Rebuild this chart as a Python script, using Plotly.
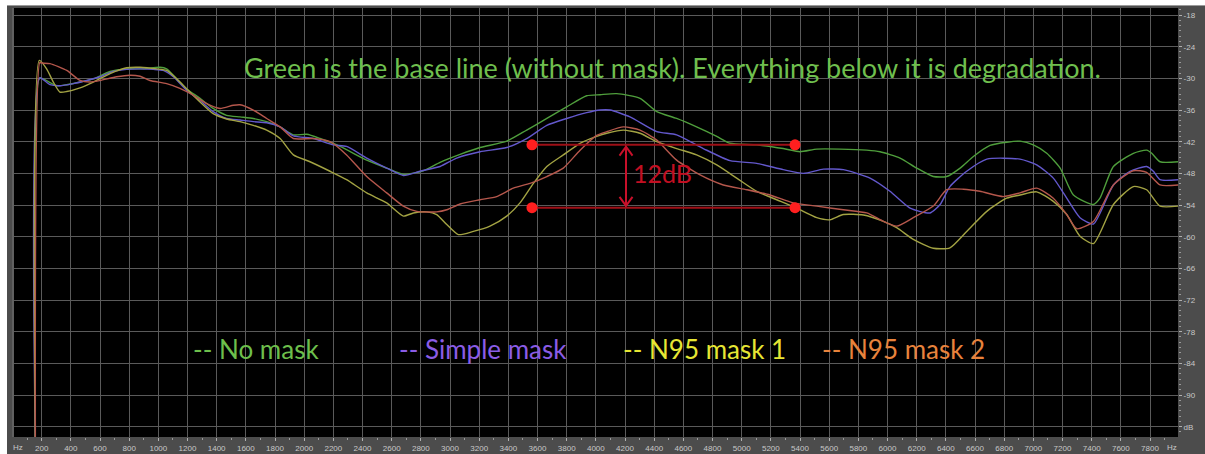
import plotly.graph_objects as go

# ---------------- data (Hz, dB) ----------------
freq_no_mask = [157, 184, 211, 303, 372, 463, 554, 669, 783, 897, 1011, 1057, 1126, 1195, 1286, 1376, 1468, 1560, 1651, 1743,
                1835, 1926, 2018, 2109, 2246, 2429, 2566, 2680, 2817, 2932, 3069, 3206, 3389, 3526, 3664, 3800, 3937, 4029, 4143, 4303,
                4418, 4554, 4691, 4829, 4920, 5103, 5285, 5400, 5515, 5674, 5858, 5949, 6086, 6200, 6314, 6406, 6498, 6589, 6703, 6817,
                6909, 7000, 7092, 7184, 7275, 7412, 7457, 7549, 7686, 7777, 7812, 7869, 7995]
db_no_mask = [-100, -30.0, -30.1, -31.4, -31.2, -30.7, -30.1, -28.7, -28.2, -28.2, -27.9, -28.2, -30.1, -32.0, -33.8, -35.7, -37.0, -37.3, -37.6, -38.2,
              -39.2, -40.7, -40.6, -41.4, -42.9, -45.5, -47.0, -48.2, -47.5, -45.9, -44.4, -43.1, -41.9, -39.8, -37.6, -35.4, -33.3, -33.1, -32.9, -33.8,
              -36.3, -37.6, -39.2, -41.0, -42.3, -42.6, -43.3, -43.9, -43.4, -43.4, -43.6, -43.9, -45.1, -47.0, -48.6, -48.6, -47.0, -44.8, -42.7, -42.1,
              -41.9, -42.6, -44.2, -47.0, -52.1, -53.9, -52.7, -46.7, -44.2, -43.6, -44.2, -45.8, -45.8]

freq_simple = [157, 187, 257, 325, 417, 509, 600, 691, 783, 875, 966, 1034, 1103, 1195, 1286, 1376, 1468, 1560, 1651, 1743,
               1835, 1926, 2063, 2200, 2291, 2429, 2566, 2680, 2794, 2932, 3046, 3206, 3389, 3526, 3664, 3800, 3937, 4029, 4098, 4234,
               4418, 4554, 4737, 4920, 5103, 5285, 5423, 5560, 5697, 5880, 6017, 6155, 6292, 6361, 6428, 6543, 6681, 6909, 7023, 7137,
               7229, 7320, 7412, 7549, 7663, 7777, 7823, 7869, 7995]
db_simple = [-100, -29.9, -31.2, -31.4, -31.0, -30.4, -29.7, -28.7, -28.3, -28.2, -28.3, -28.5, -29.7, -32.3, -34.2, -36.3, -37.6, -37.9, -38.2, -38.4,
             -39.2, -40.9, -41.4, -42.6, -42.9, -45.1, -47.0, -48.4, -47.6, -46.7, -45.1, -43.9, -43.1, -41.4, -38.9, -37.6, -36.5, -36.0, -36.0, -37.3,
             -40.1, -40.7, -43.3, -45.6, -46.1, -47.3, -48.0, -47.2, -47.3, -48.9, -51.4, -54.6, -55.5, -53.9, -50.5, -47.6, -45.3, -45.3, -46.4, -48.9,
             -52.7, -56.4, -57.6, -50.2, -47.6, -46.7, -47.6, -49.2, -49.2]

freq_n95_1 = [157, 184, 234, 280, 325, 372, 463, 554, 669, 783, 875, 989, 1057, 1126, 1195, 1286, 1376, 1468, 1560, 1651,
              1743, 1835, 1926, 2040, 2177, 2291, 2429, 2566, 2680, 2749, 2841, 2909, 2978, 3057, 3160, 3274, 3389, 3480, 3572, 3664,
              3777, 3892, 4006, 4075, 4189, 4303, 4418, 4554, 4691, 4829, 4966, 5103, 5240, 5377, 5515, 5606, 5697, 5835, 5972, 6063,
              6177, 6314, 6428, 6543, 6681, 6817, 6909, 7023, 7137, 7229, 7320, 7412, 7549, 7686, 7777, 7869, 7995]
db_n95_1 = [-100, -26.6, -28.2, -30.7, -32.6, -32.5, -31.8, -30.7, -29.1, -28.0, -27.9, -28.2, -28.5, -30.1, -32.0, -34.5, -36.7, -37.7, -38.2, -38.9,
            -39.8, -41.4, -44.5, -45.8, -47.6, -49.2, -51.7, -53.6, -56.1, -55.5, -55.3, -55.8, -57.7, -59.6, -59.0, -58.0, -56.1, -53.6, -49.9, -46.7,
            -44.5, -42.3, -41.0, -40.4, -39.8, -40.4, -42.0, -43.3, -44.5, -46.4, -48.9, -51.4, -53.0, -54.6, -56.4, -56.8, -55.8, -55.9, -57.1, -58.3,
            -60.5, -62.2, -62.1, -59.0, -55.2, -52.7, -52.1, -51.5, -53.3, -55.8, -59.9, -61.3, -53.9, -50.5, -51.1, -54.2, -54.2]

freq_n95_2 = [157, 187, 200, 257, 372, 463, 531, 600, 714, 806, 875, 943, 1057, 1148, 1240, 1332, 1423, 1514, 1560, 1651,
              1743, 1835, 1926, 2063, 2177, 2291, 2429, 2566, 2680, 2772, 2909, 2978, 3069, 3206, 3320, 3434, 3549, 3664, 3777, 3892,
              4006, 4075, 4189, 4303, 4418, 4554, 4715, 4874, 5035, 5194, 5354, 5515, 5697, 5858, 5972, 6063, 6177, 6314, 6406, 6520,
              6634, 6794, 6909, 7023, 7137, 7229, 7298, 7412, 7549, 7686, 7777, 7869, 7995]
db_n95_2 = [-100, -27.0, -27.1, -27.2, -28.5, -30.4, -30.7, -30.4, -29.7, -29.4, -29.6, -30.4, -31.0, -31.9, -33.2, -34.8, -35.7, -35.1, -35.0, -36.0,
            -37.6, -39.2, -41.4, -41.4, -42.0, -44.5, -48.6, -51.7, -54.2, -55.2, -55.3, -54.9, -53.8, -53.0, -52.4, -50.8, -49.9, -48.6, -47.0, -43.6,
            -40.8, -40.1, -39.2, -39.8, -41.7, -45.5, -48.3, -50.2, -51.1, -52.1, -53.6, -54.2, -54.9, -55.5, -57.1, -58.0, -56.4, -54.2, -51.1, -51.0,
            -51.4, -52.4, -51.7, -50.8, -52.7, -55.8, -58.5, -57.1, -50.2, -47.5, -47.8, -50.2, -50.2]

series_labels = ["-- No mask", "-- Simple mask", "-- N95 mask 1", "-- N95 mask 2"]

x_tick_vals = list(range(200, 7801, 200))
x_tick_text = [str(v) for v in x_tick_vals]
y_tick_vals = [-18, -24, -30, -36, -42, -48, -54, -60, -66, -72, -78, -84, -90, -96]
y_tick_text = ["-18", "-24", "-30", "-36", "-42", "-48", "-54", "-60", "-66", "-72", "-78", "-84", "-90", "dB"]

title_text = "Green is the base line (without mask). Everything below it is degradation."
gap_text = "12dB"
gap_upper_db = -42.6
gap_lower_db = -54.5
gap_start_hz = 3562
gap_end_hz = 5366
arrow_hz = 4207

# ---------------- layout geometry ----------------
W, H = 1205, 454
L, R, T, B = 14, 1178, 8, 437
X_RANGE = [10.3, 7992]
Y_RANGE = [-97.95, -16.67]


def px_x(p):
    return (p - L) / (R - L)


def px_y(p):
    return (B - p) / (B - T)


hz_per_px = (X_RANGE[1] - X_RANGE[0]) / (R - L)
db_per_px = (Y_RANGE[1] - Y_RANGE[0]) / (B - T)

line_colors = ["#4f9e3c", "#6358cc", "#a3a343", "#b5574c"]
text_colors = ["#6dbf4c", "#8a5ce6", "#e6e634", "#e8833c"]
series = [(freq_no_mask, db_no_mask), (freq_simple, db_simple), (freq_n95_1, db_n95_1), (freq_n95_2, db_n95_2)]

fig = go.Figure()
for (fx, fy), col, name in zip(series, line_colors, series_labels):
    fig.add_trace(go.Scatter(x=fx, y=fy, mode="lines", name=name,
                             line=dict(color=col, width=1.4, shape="spline", smoothing=0.6),
                             hoverinfo="skip", showlegend=False))

# 12 dB gap marker lines with end dots
for level in (gap_upper_db, gap_lower_db):
    fig.add_trace(go.Scatter(x=[gap_start_hz, gap_end_hz], y=[level, level], mode="lines+markers",
                             line=dict(color="#9e0f16", width=2),
                             marker=dict(color="#ff1f1f", size=11),
                             hoverinfo="skip", showlegend=False))

arrow_col = "#c8102a"
tip_pad = 0.35
wing_dx = 6.5 * hz_per_px
wing_dy = 9 * db_per_px
top_tip = gap_upper_db - tip_pad
bot_tip = gap_lower_db + tip_pad
shapes = [
    dict(type="line", xref="x", yref="y", x0=arrow_hz, x1=arrow_hz, y0=top_tip, y1=bot_tip,
         line=dict(color=arrow_col, width=2)),
    dict(type="path", xref="x", yref="y",
         path=f"M {arrow_hz - wing_dx},{top_tip - wing_dy} L {arrow_hz},{top_tip} L {arrow_hz + wing_dx},{top_tip - wing_dy}",
         line=dict(color=arrow_col, width=2)),
    dict(type="path", xref="x", yref="y",
         path=f"M {arrow_hz - wing_dx},{bot_tip + wing_dy} L {arrow_hz},{bot_tip} L {arrow_hz + wing_dx},{bot_tip + wing_dy}",
         line=dict(color=arrow_col, width=2)),
    # white outer margins (screenshot edge)
    dict(type="rect", xref="paper", yref="paper", x0=px_x(-5), x1=px_x(7), y0=px_y(460), y1=px_y(-5),
         fillcolor="white", line=dict(width=0), layer="below"),
    dict(type="rect", xref="paper", yref="paper", x0=px_x(-5), x1=px_x(1210), y0=px_y(5), y1=px_y(-5),
         fillcolor="white", line=dict(width=0), layer="below"),
    dict(type="line", xref="paper", yref="paper", x0=px_x(7), x1=px_x(1210), y0=px_y(5.5), y1=px_y(5.5),
         line=dict(color="#9a9a9a", width=1), layer="below"),
    dict(type="line", xref="paper", yref="paper", x0=px_x(13), x1=px_x(13), y0=px_y(8), y1=px_y(437),
         line=dict(color="#606060", width=2), layer="below"),
]

annotations = [
    dict(text=title_text, x=4529, y=-28.0, xref="x", yref="y", showarrow=False, xanchor="center", yanchor="middle",
         font=dict(family="Lato", size=27, color="#6fbf4e")),
    dict(text=gap_text, x=4454, y=-48.0, xref="x", yref="y", showarrow=False, xanchor="center", yanchor="middle",
         font=dict(family="Lato", size=25, color="#c20f22")),
]
legend_centers_hz = [1670, 3226, 4742, 6113]
for lbl, col, cx in zip(series_labels, text_colors, legend_centers_hz):
    annotations.append(dict(text=lbl, x=cx, y=-81.2, xref="x", yref="y", showarrow=False, xanchor="center",
                            yanchor="middle", font=dict(family="Lato", size=26, color=col)))
# axis unit labels
unit_font = dict(family="Liberation Sans", size=8, color="#c8c8c8")
annotations.append(dict(text="Hz", x=px_x(18), y=px_y(448), xref="paper", yref="paper", showarrow=False,
                        xanchor="center", yanchor="middle", font=unit_font))
annotations.append(dict(text="Hz", x=px_x(1172), y=px_y(448), xref="paper", yref="paper", showarrow=False,
                        xanchor="center", yanchor="middle", font=unit_font))

tick_font = dict(family="Liberation Sans", size=8, color="#c8c8c8")
fig.update_layout(
    width=W, height=H, autosize=False,
    margin=dict(l=L, r=W - R, t=T, b=H - B, pad=0),
    paper_bgcolor="#4c4c4c", plot_bgcolor="black",
    shapes=shapes, annotations=annotations,
    xaxis=dict(range=X_RANGE, tickvals=x_tick_vals, ticktext=x_tick_text, ticks="outside", ticklen=3,
               tickcolor="#b0b0b0", tickfont=tick_font, showgrid=True, gridcolor="#5a5a5a", gridwidth=1,
               zeroline=False, showline=False, fixedrange=True, automargin=False, ticklabeloverflow="allow",
               minor=dict(dtick=100, tick0=0, ticks="outside", ticklen=2, tickcolor="#9a9a9a", showgrid=False)),
    yaxis=dict(range=Y_RANGE, side="right", tickvals=y_tick_vals, ticktext=y_tick_text, ticks="outside", ticklen=3,
               tickcolor="#b0b0b0", tickfont=tick_font, showgrid=True, gridcolor="#5a5a5a", gridwidth=1,
               zeroline=False, showline=False, fixedrange=True, automargin=False, ticklabeloverflow="allow",
               minor=dict(dtick=1, tick0=0, ticks="outside", ticklen=1.5, tickcolor="#9a9a9a", showgrid=False)),
    showlegend=False,
)

# remove the browser's default page margin so the figure sits at the window's top-left corner
page_fix = "document.body.style.margin='0';document.body.style.overflow='hidden';"
fig.write_html("out.html", post_script=page_fix, config={"displayModeBar": False})
